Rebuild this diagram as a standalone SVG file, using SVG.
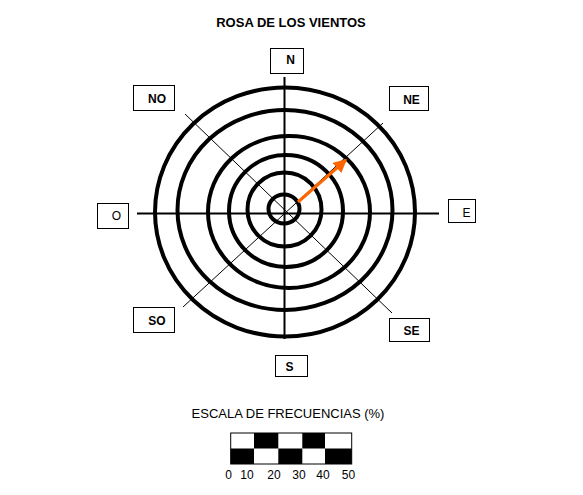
<svg xmlns="http://www.w3.org/2000/svg" width="583" height="495" viewBox="0 0 583 495">
<style>
.ring{fill:none;stroke:#000;stroke-width:4}
.axis{stroke:#000;stroke-width:2}
.diag{stroke:#000;stroke-width:1}
.box{fill:#fff;stroke:#000;stroke-width:1}
.lb{font-family:"Liberation Sans",Arial,sans-serif;font-size:12px;font-weight:bold;text-anchor:middle;fill:#000}
.lr{font-family:"Liberation Sans",Arial,sans-serif;font-size:12px;text-anchor:middle;fill:#000}
.t{font-family:"Liberation Sans",Arial,sans-serif;font-size:13px;text-anchor:middle;fill:#000}
</style>
<defs>
<marker id="ah" viewBox="0 0 10 10" refX="9" refY="5" markerWidth="4.5" markerHeight="4.5" orient="auto" markerUnits="strokeWidth">
<path d="M0,0 L10,5 L0,10 z" fill="#FF6600"/>
</marker>
</defs>
<rect width="583" height="495" fill="#fff"/>
<text class="t" x="291" y="26.5" font-weight="bold">ROSA DE LOS VIENTOS</text>
<g id="connectors">
<line class="diag" x1="185" y1="114" x2="392" y2="313"/>
<line class="diag" x1="383" y1="123" x2="183" y2="307"/>
<line class="axis" x1="284.5" y1="77" x2="284.5" y2="339"/>
<line class="axis" x1="137" y1="213.5" x2="439" y2="213.5"/>
</g>
<g id="rings">
<ellipse class="ring" cx="285" cy="212" rx="130" ry="124.5"/>
<ellipse class="ring" cx="285" cy="210" rx="107.5" ry="100"/>
<ellipse class="ring" cx="289" cy="212" rx="81" ry="76"/>
<ellipse class="ring" cx="286" cy="211" rx="57" ry="56"/>
<ellipse class="ring" cx="284.5" cy="209.5" rx="37" ry="37"/>
<ellipse class="ring" cx="284" cy="209" rx="15.5" ry="14.5" fill="#fff"/>
</g>
<g id="arrow">
<line x1="298" y1="202" x2="346" y2="160" stroke="#FF6600" stroke-width="3" marker-end="url(#ah)"/>
</g>
<g id="N"><rect class="box" x="270.5" y="48.5" width="33" height="25"/><text class="lb" x="290.5" y="63.5">N</text></g>
<g id="NO"><rect class="box" x="133.5" y="85.5" width="41" height="25"/><text class="lb" x="157" y="103">NO</text></g>
<g id="NE"><rect class="box" x="389.5" y="86.5" width="39" height="24"/><text class="lb" x="411.5" y="103.5">NE</text></g>
<g id="O"><rect class="box" x="97.5" y="203.5" width="31" height="25"/><text class="lr" x="116.5" y="219.5">O</text></g>
<g id="E"><rect class="box" x="448.5" y="199.5" width="27" height="23"/><text class="lr" x="466.5" y="217">E</text></g>
<g id="SO"><rect class="box" x="133.5" y="307.5" width="41" height="25"/><text class="lb" x="157" y="324.5">SO</text></g>
<g id="SE"><rect class="box" x="389.5" y="318.5" width="40" height="23"/><text class="lb" x="411.5" y="335">SE</text></g>
<g id="S"><rect class="box" x="275.5" y="355.5" width="32" height="21"/><text class="lb" x="289.5" y="371">S</text></g>
<g id="scale">
<text class="t" x="288" y="417.5">ESCALA DE FRECUENCIAS (%)</text>
<rect x="254" y="433" width="24.3" height="15.5" fill="#000"/>
<rect x="302.3" y="433" width="22.7" height="15.5" fill="#000"/>
<rect x="230.7" y="448.5" width="23.3" height="15.5" fill="#000"/>
<rect x="278.3" y="448.5" width="24" height="15.5" fill="#000"/>
<rect x="325" y="448.5" width="26.7" height="15.5" fill="#000"/>
<rect x="230.7" y="433" width="121" height="31" fill="none" stroke="#000" stroke-width="1"/>
<text class="lr" x="228.5" y="478.5">0</text>
<text class="lr" x="247" y="478.5">10</text>
<text class="lr" x="274" y="478.5">20</text>
<text class="lr" x="299" y="478.5">30</text>
<text class="lr" x="323" y="478.5">40</text>
<text class="lr" x="348.5" y="478.5">50</text>
</g>
</svg>
